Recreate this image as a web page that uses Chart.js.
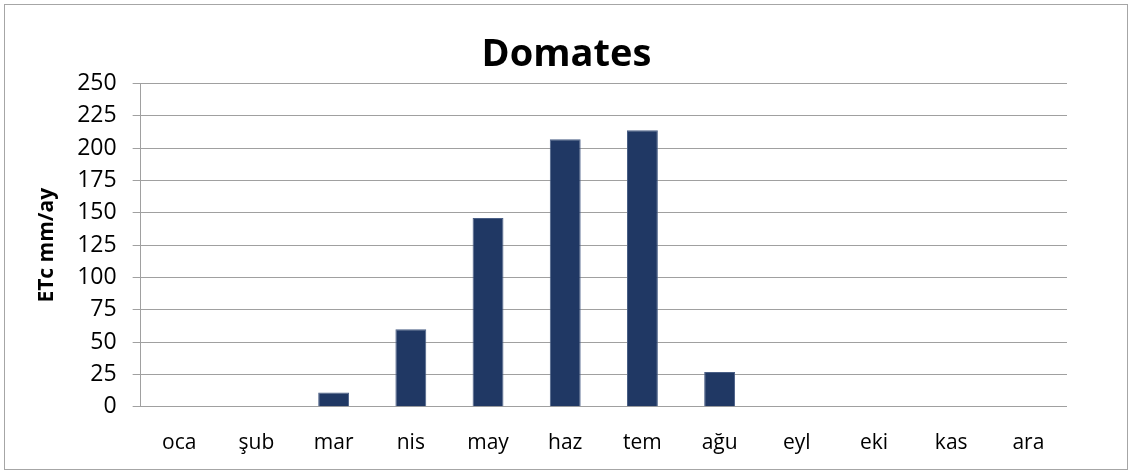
<!DOCTYPE html>
<html><head><meta charset="utf-8">
<script src="https://cdn.jsdelivr.net/npm/chart.js@4/dist/chart.umd.min.js"></script>
<style>
html,body{margin:0;padding:0;background:#fff;}
#wrap{position:absolute;left:0;top:0;width:1133px;height:475px;}
#frame{position:absolute;left:4px;top:4px;width:1124px;height:466px;border:1px solid #a6a6a6;box-sizing:border-box;pointer-events:none;}
</style></head>
<body>
<div id="wrap"><canvas id="c" width="1133" height="475"></canvas><div id="frame"></div></div>
<script>
const categories = ['oca','şub','mar','nis','may','haz','tem','ağu','eyl','eki','kas','ara'];
const etcValues = [0,0,11,60,146,207,214,27,0,0,0,0];
const yTicks = [0,25,50,75,100,125,150,175,200,225,250];
const chartTitle = 'Domates';
const yTitle = 'ETc mm/ay';

const font = "'Open Sans','Liberation Sans',sans-serif";
new Chart(document.getElementById('c'), {
  type: 'bar',
  data: {
    labels: categories,
    datasets: [{
      data: etcValues,
      backgroundColor: '#203864',
      borderColor: '#4a5f86',
      borderWidth: 1,
      barPercentage: 0.4,
      categoryPercentage: 1.0
    }]
  },
  options: {
    responsive: false,
    animation: false,
    layout: { padding: { left: 34, right: 34, top: 8, bottom: -5 } },
    plugins: {
      legend: { display: false },
      tooltip: { enabled: false },
      title: {
        display: true, text: chartTitle, color: '#000',
        font: { family: font, size: 38, weight: 'bold' },
        padding: { top: 24, bottom: 6 }
      }
    },
    scales: {
      x: {
        grid: { display: false, drawTicks: false },
        border: { display: false },
        ticks: { color: '#000', font: { family: font, size: 21 }, padding: 24 }
      },
      y: {
        min: 0, max: 250,
        afterBuildTicks: (s) => { s.ticks = yTicks.map(v => ({ value: v })); },
        grid: { color: '#a0a0a0', lineWidth: 1, drawTicks: true, tickLength: 8, tickColor: '#a0a0a0' },
        border: { display: true, color: '#a0a0a0', width: 1 },
        ticks: { color: '#000', font: { family: font, size: 23 }, padding: 16 },
        title: {
          display: true, text: yTitle, color: '#000',
          font: { family: font, size: 21, weight: 'bold' }, padding: { top: 0, bottom: 2 }
        }
      },
      yRightSpace: {
        position: 'right', display: true,
        grid: { display: false, drawTicks: false },
        border: { display: false },
        ticks: { display: false },
        afterFit: (s) => { s.width = 32; }
      }
    }
  }
});
</script>
</body></html>
